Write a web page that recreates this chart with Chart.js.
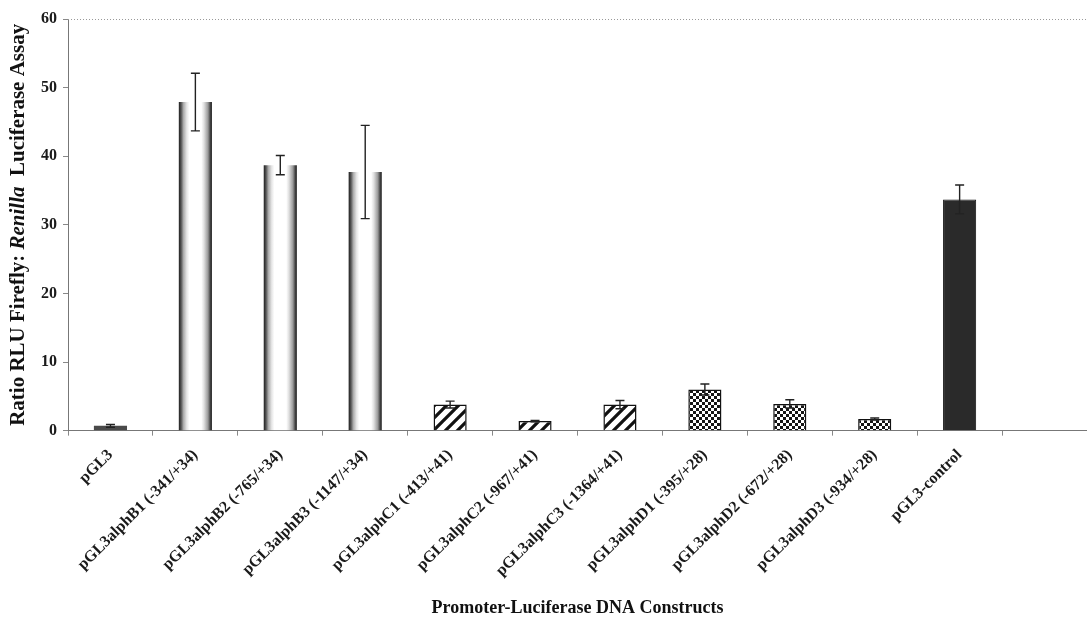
<!DOCTYPE html>
<html>
<head>
<meta charset="utf-8">
<script src="https://cdn.jsdelivr.net/npm/chart.js@4.4.1/dist/chart.umd.min.js"></script>
<style>
  html, body { margin: 0; padding: 0; background: #fff; }
  #wrap { width: 1087px; height: 619px; position: relative; }
</style>
</head>
<body>
<div id="wrap"><canvas id="barChart"></canvas></div>
<script>
var constructs = ['pGL3', 'pGL3alphB1 (-341/+34)', 'pGL3alphB2 (-765/+34)', 'pGL3alphB3 (-1147/+34)',
    'pGL3alphC1 (-413/+41)', 'pGL3alphC2 (-967/+41)', 'pGL3alphC3 (-1364/+41)',
    'pGL3alphD1 (-395/+28)', 'pGL3alphD2 (-672/+28)', 'pGL3alphD3 (-934/+28)', 'pGL3-control', '']
var ratios = [0.7, 47.9, 38.7, 37.7, 3.8, 1.4, 3.8, 6.0, 3.9, 1.7, 33.7, null]
var errors = [0.2, 4.2, 1.4, 6.8, 0.5, 0.1, 0.6, 0.8, 0.6, 0.15, 2.1, null]
// fill style of each bar: solid, tube, stripe, check, dark
var fills = ['solid', 'tube', 'tube', 'tube', 'stripe', 'stripe', 'stripe', 'check', 'check', 'check', 'dark', 'solid']
var yTicks = [0, 10, 20, 30, 40, 50, 60]

var serif = '"Liberation Serif", "Times New Roman", serif'
var barPct = 0.39

function makePattern(kind) {
    var c = document.createElement('canvas')
    var g = c.getContext('2d')
    if (kind == 'stripe') {
        c.width = 12; c.height = 12
        g.fillStyle = '#fff'
        g.fillRect(0, 0, 12, 12)
        g.strokeStyle = '#111'
        g.lineWidth = 3.2
        g.beginPath()
        g.moveTo(-3, 15); g.lineTo(15, -3)
        g.moveTo(-9, 9); g.lineTo(9, -9)
        g.moveTo(3, 21); g.lineTo(21, 3)
        g.stroke()
    } else {
        c.width = 6; c.height = 6
        g.fillStyle = '#fff'
        g.fillRect(0, 0, 6, 6)
        g.fillStyle = '#151515'
        g.fillRect(0, 0, 3, 3)
        g.fillRect(3, 3, 3, 3)
    }
    return g.createPattern(c, 'repeat')
}

var stripePattern = makePattern('stripe')
var checkPattern = makePattern('check')

function barFill(ctx) {
    var kind = fills[ctx.dataIndex]
    if (kind == 'stripe') return stripePattern
    if (kind == 'check') return checkPattern
    if (kind == 'dark') return '#2a2a2a'
    if (kind == 'solid') return '#4a4a4a'
    // tube: dark edges, white middle
    var chart = ctx.chart
    var xs = chart.scales.x
    if (!xs || xs.width == null) return '#ccc'
    var cx = xs.getPixelForValue(ctx.dataIndex)
    var w = xs.width / constructs.length * barPct
    var gr = chart.ctx.createLinearGradient(cx - w / 2, 0, cx + w / 2, 0)
    gr.addColorStop(0, '#1e1e1e')
    gr.addColorStop(0.07, '#555')
    gr.addColorStop(0.14, '#aaa')
    gr.addColorStop(0.24, '#e6e6e6')
    gr.addColorStop(0.32, '#ffffff')
    gr.addColorStop(0.68, '#ffffff')
    gr.addColorStop(0.76, '#e0e0e0')
    gr.addColorStop(0.88, '#9a9a9a')
    gr.addColorStop(0.95, '#444')
    gr.addColorStop(1, '#1e1e1e')
    return gr
}

function barBorder(ctx) {
    var kind = fills[ctx.dataIndex]
    return (kind == 'stripe' || kind == 'check') ? 1.5 : (kind == 'dark' ? 1 : 0)
}

// error bars and the dotted top frame line
var extras = {
    id: 'extras',
    afterDatasetsDraw: function (chart) {
        var g = chart.ctx
        var xs = chart.scales.x, ys = chart.scales.y
        var area = chart.chartArea
        g.save()
        g.strokeStyle = '#999'
        g.lineWidth = 1
        g.setLineDash([1, 2])
        g.beginPath()
        g.moveTo(area.left, area.top + 0.5)
        g.lineTo(area.right, area.top + 0.5)
        g.stroke()
        g.setLineDash([])
        g.strokeStyle = '#222'
        g.lineWidth = 1.4
        for (var i = 0; i < ratios.length; i++) {
            if (ratios[i] == null || errors[i] == null) continue
            var x = xs.getPixelForValue(i)
            var hi = ys.getPixelForValue(ratios[i] + errors[i])
            var lo = ys.getPixelForValue(ratios[i] - errors[i])
            g.beginPath()
            g.moveTo(x, hi); g.lineTo(x, lo)
            g.moveTo(x - 4.5, hi); g.lineTo(x + 4.5, hi)
            g.moveTo(x - 4.5, lo); g.lineTo(x + 4.5, lo)
            g.stroke()
        }
        g.restore()
    },
    afterDraw: function (chart) {
        // y title with italic "Renilla"
        var g = chart.ctx
        var area = chart.chartArea
        var parts = [['Ratio RLU Firefly: ', 'bold'], ['Renilla', 'italic bold'], ['  Luciferase Assay', 'bold']]
        var total = 0
        parts.forEach(function (p) {
            g.font = p[1] + ' 21px ' + serif
            total += g.measureText(p[0]).width
        })
        g.save()
        g.translate(19, (area.top + area.bottom) / 2)
        g.rotate(-Math.PI / 2)
        g.fillStyle = '#111'
        g.textBaseline = 'middle'
        var x = -total / 2
        parts.forEach(function (p) {
            g.font = p[1] + ' 21px ' + serif
            g.fillText(p[0], x, 0)
            x += g.measureText(p[0]).width
        })
        g.restore()
    }
}

var barChartCanvas = document.getElementById('barChart').getContext('2d')

var barChart = new Chart(barChartCanvas, {
    type: 'bar',
    data: {
        labels: constructs,
        datasets: [
            {
                label: 'Ratio',
                data: ratios,
                backgroundColor: barFill,
                borderColor: '#111',
                borderWidth: barBorder,
                barPercentage: barPct,
                categoryPercentage: 1.0
            }
        ]
    },
    options: {
        responsive: true,
        maintainAspectRatio: false,
        animation: false,
        layout: { padding: { left: 35, top: 19, right: 0, bottom: 0 } },
        plugins: {
            legend: { display: false },
            tooltip: { enabled: false }
        },
        scales: {
            x: {
                grid: { drawOnChartArea: false, drawTicks: true, tickLength: 5, color: '#888', offset: true },
                border: { color: '#777', width: 1 },
                ticks: {
                    minRotation: 45, maxRotation: 45, autoSkip: false, padding: 10,
                    color: '#1a1a1a',
                    font: { family: serif, size: 16, weight: 'bold' }
                },
                title: {
                    display: true,
                    text: 'Promoter-Luciferase DNA Constructs',
                    color: '#111',
                    padding: { top: 7, bottom: 0 },
                    font: { family: serif, size: 18, weight: 'bold' }
                }
            },
            y: {
                min: 0,
                max: 60,
                afterBuildTicks: function (axis) {
                    axis.ticks = yTicks.map(function (v) { return { value: v } })
                },
                grid: { drawOnChartArea: false, drawTicks: true, tickLength: 5, color: '#888' },
                border: { color: '#777', width: 1 },
                ticks: {
                    padding: 6,
                    color: '#1a1a1a',
                    font: { family: serif, size: 16, weight: 'bold' }
                }
            }
        }
    },
    plugins: [extras]
})
</script>
</body>
</html>
